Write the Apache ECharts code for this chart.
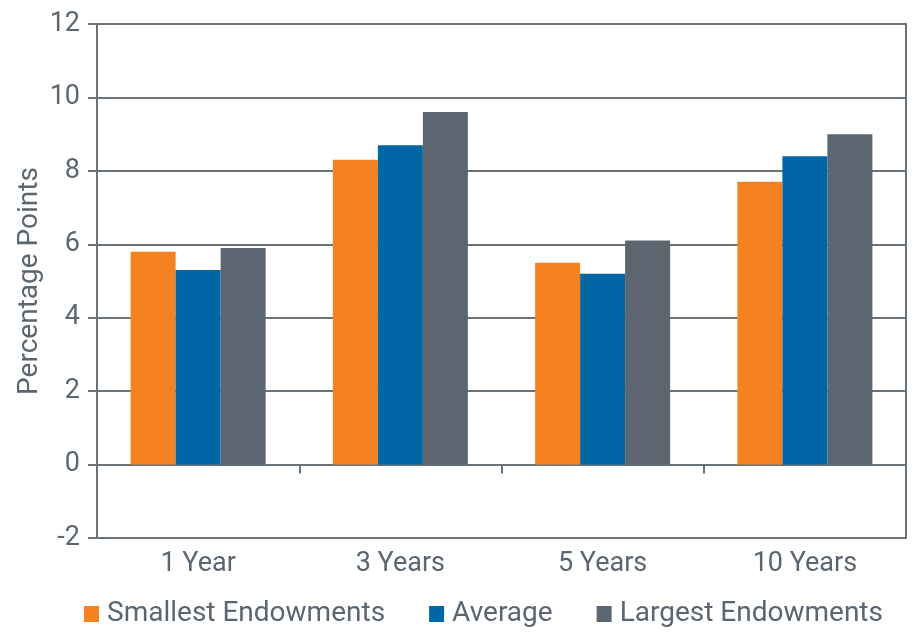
<!DOCTYPE html>
<html><head><meta charset="utf-8">
<script src="https://cdn.jsdelivr.net/npm/echarts@6/dist/echarts.min.js"></script>
<style>html,body{margin:0;padding:0;background:#fff}#c{width:923px;height:643px}</style>
</head><body><div id="c"></div>
<script>
const categories = ["1 Year", "3 Years", "5 Years", "10 Years"];
const smallest = [5.8, 8.3, 5.5, 7.7];
const average = [5.3, 8.7, 5.2, 8.4];
const largest = [5.9, 9.6, 6.1, 9.0];
const seriesNames = ["Smallest Endowments", "Average", "Largest Endowments"];
const yTicks = [-2, 12, 2];

const lineColor = "#6b737a";
const textColor = "#5b6670";
const font = "Roboto";
const chart = echarts.init(document.getElementById('c'));
chart.setOption({
  animation: false,
  textStyle: { fontFamily: font },
  grid: { left: 97, right: 17, top: 24, bottom: 105, outerBoundsMode: 'none', containLabel: false, show: true, borderColor: lineColor, borderWidth: 2, backgroundColor: 'transparent' },
  legend: {
    bottom: 10, left: 79, itemWidth: 15, itemHeight: 16, itemGap: 44, icon: 'rect',
    textStyle: { color: textColor, fontSize: 28, fontFamily: font, padding: [0, 0, 0, 3] },
    data: seriesNames
  },
  xAxis: [
    { type: 'category', data: categories,
      axisLine: { onZero: true, lineStyle: { color: lineColor, width: 2 } },
      axisTick: { show: true, length: 9, lineStyle: { color: lineColor, width: 2 } },
      axisLabel: { show: false } },
    { type: 'category', data: categories, position: 'bottom',
      axisLine: { show: false, onZero: false }, axisTick: { show: false },
      axisLabel: { color: textColor, fontSize: 27, fontFamily: font, margin: 13 } }
  ],
  yAxis: {
    type: 'value', min: yTicks[0], max: yTicks[1], interval: yTicks[2],
    name: 'Percentage Points', nameLocation: 'middle', nameGap: 53, nameRotate: 90, nameMoveOverlap: false,
    nameTextStyle: { color: textColor, fontSize: 28, fontFamily: font },
    axisLine: { show: true, lineStyle: { color: lineColor, width: 2 } },
    axisTick: { show: true, length: 9, lineStyle: { color: lineColor, width: 2 } },
    axisLabel: { color: textColor, fontSize: 27, fontFamily: font, margin: 17 },
    splitLine: { show: true, lineStyle: { color: lineColor, width: 2 } }
  },
  series: [
    { name: seriesNames[0], type: 'bar', data: smallest, itemStyle: { color: '#f58220' }, barWidth: 45, barGap: '0%' },
    { name: seriesNames[1], type: 'bar', data: average, itemStyle: { color: '#0066a6' }, barWidth: 45, barGap: '0%' },
    { name: seriesNames[2], type: 'bar', data: largest, itemStyle: { color: '#5b6670' }, barWidth: 45, barGap: '0%' }
  ]
});
</script></body></html>
